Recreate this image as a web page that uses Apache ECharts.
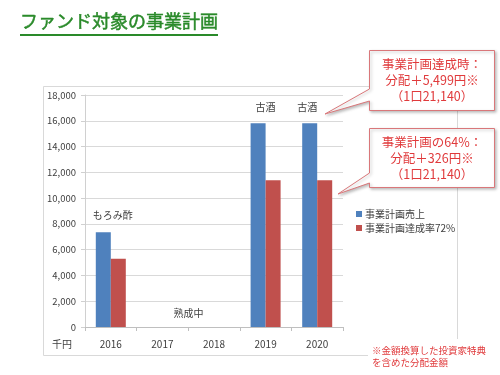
<!DOCTYPE html>
<html>
<head>
<meta charset="utf-8">
<script src="https://cdn.jsdelivr.net/npm/echarts@6/dist/echarts.min.js"></script>
<style>
html,body{margin:0;padding:0;background:#fff;}
#chart{width:500px;height:375px;}
</style>
</head>
<body>
<div id="chart"></div>
<script>
var categories = ['2016', '2017', '2018', '2019', '2020'];
var planSales = [7350, '-', '-', 15800, 15800];
var plan72 = [5290, '-', '-', 11380, 11380];
var seriesNames = ['事業計画売上', '事業計画達成率72%'];
var yTicks = [0, 2000, 4000, 6000, 8000, 10000, 12000, 14000, 16000, 18000];
var barNotes = [
  { cat: '2016', value: 8650, text: 'もろみ酢', dx: 2 },
  { cat: '2017', value: 1100, text: '熟成中', dx: 26 },
  { cat: '2019', value: 17050, text: '古酒', dx: 0 },
  { cat: '2020', value: 17050, text: '古酒', dx: -10 }
];
var titleText = 'ファンド対象の事業計画';
var callout1 = ['事業計画達成時：', '分配＋5,499円※', '（1口21,140）'];
var callout2 = ['事業計画の64%：', '分配＋326円※', '（1口21,140）'];
var footnote = ['※金額換算した投資家特典', 'を含めた分配金額'];

var FONT = '"Noto Sans CJK JP", "Noto Sans", sans-serif';
var BLUE = '#4f81bd', RED = '#c0504d';
var CALL_RED = '#e03a3c', CALL_BORDER = '#d9777a';

var chart = echarts.init(document.getElementById('chart'), null, {renderer: 'canvas'});

function calloutText(lines, cx, top) {
  return {
    type: 'text', z: 20,
    style: {
      text: lines.join('\n'), x: cx, y: top, align: 'center', verticalAlign: 'top',
      fill: CALL_RED, font: '12.5px ' + FONT, lineHeight: 16
    }
  };
}

var option = {
  animation: false,
  backgroundColor: '#fff',
  textStyle: { fontFamily: FONT },
  grid: { left: 85, right: 157, top: 95, bottom: 48 },
  legend: {
    orient: 'vertical', left: 351, top: 204, itemWidth: 6, itemHeight: 6, itemGap: 4,
    icon: 'rect', data: seriesNames,
    textStyle: { fontSize: 10, color: '#404040', fontFamily: FONT, padding: [0, 0, 0, -2] }
  },
  xAxis: {
    type: 'category', data: categories,
    axisLine: { lineStyle: { color: '#bfbfbf' } },
    axisTick: { show: true, length: 4, lineStyle: { color: '#bfbfbf' } },
    axisLabel: { color: '#404040', fontSize: 10, margin: 12 }
  },
  yAxis: {
    type: 'value', min: 0, max: 18000, interval: 2000,
    axisLine: { show: true, lineStyle: { color: '#d0d0d0' } },
    axisTick: { show: true, length: 4, lineStyle: { color: '#d0d0d0' } },
    splitLine: { lineStyle: { color: '#d9d9d9' } },
    axisLabel: {
      color: '#404040', fontSize: 9.5, margin: 9,
      formatter: function (v) { return v.toLocaleString('en-US'); }
    }
  },
  series: [
    {
      name: seriesNames[0], type: 'bar', data: planSales, barWidth: 15, barGap: '0%',
      itemStyle: { color: BLUE },
      markPoint: {
        symbol: 'circle', symbolSize: 0, silent: true,
        label: { show: true, color: '#404040', fontSize: 10, fontFamily: FONT, formatter: function (p) { return p.name; } },
        data: barNotes.map(function (n) {
          return { name: n.text, coord: [n.cat, n.value], label: { offset: [n.dx + 7.5, 0] } };
        })
      }
    },
    {
      name: seriesNames[1], type: 'bar', data: plan72, barWidth: 15,
      itemStyle: { color: RED }
    }
  ],
  graphic: [
    { type: 'rect', z: -1, shape: { x: 43.5, y: 86.5, width: 414, height: 269 },
      style: { fill: 'none', stroke: '#d9d9d9', lineWidth: 1 } },
    { type: 'rect', z: 5, shape: { x: 368, y: 339, width: 132, height: 36 }, style: { fill: '#fff' } },
    { type: 'text', z: 20, style: { text: titleText, x: 20, y: 12, fill: '#2a8a2a', font: '18px ' + FONT, stroke: '#2a8a2a', lineWidth: 0.5 } },
    { type: 'line', z: 20, shape: { x1: 20, y1: 35, x2: 218, y2: 35 }, style: { stroke: '#2a8a2a', lineWidth: 2 } },
    { type: 'polygon', z: 15,
      shape: { points: [[369.5, 50.5], [494.5, 50.5], [494.5, 110.5], [369.5, 110.5], [369.5, 101], [325, 114], [369.5, 89]] },
      style: { fill: '#fff', stroke: CALL_BORDER, lineWidth: 1, shadowBlur: 3, shadowColor: 'rgba(0,0,0,0.25)', shadowOffsetX: 1.5, shadowOffsetY: 1.5 } },
    calloutText(callout1, 432, 56),
    { type: 'polygon', z: 15,
      shape: { points: [[369.5, 128.5], [494.5, 128.5], [494.5, 187.5], [369.5, 187.5], [369.5, 183], [338, 194], [369.5, 173]] },
      style: { fill: '#fff', stroke: CALL_BORDER, lineWidth: 1, shadowBlur: 3, shadowColor: 'rgba(0,0,0,0.25)', shadowOffsetX: 1.5, shadowOffsetY: 1.5 } },
    calloutText(callout2, 432, 134),
    { type: 'text', z: 20, style: { text: '千円', x: 62, y: 344, align: 'center', verticalAlign: 'middle', fill: '#404040', font: '10px ' + FONT } },
    { type: 'text', z: 20, style: { text: footnote.join('\n'), x: 372, y: 344, fill: CALL_RED, font: '9.5px ' + FONT, lineHeight: 12 } }
  ]
};
chart.setOption(option);
</script>
</body>
</html>
